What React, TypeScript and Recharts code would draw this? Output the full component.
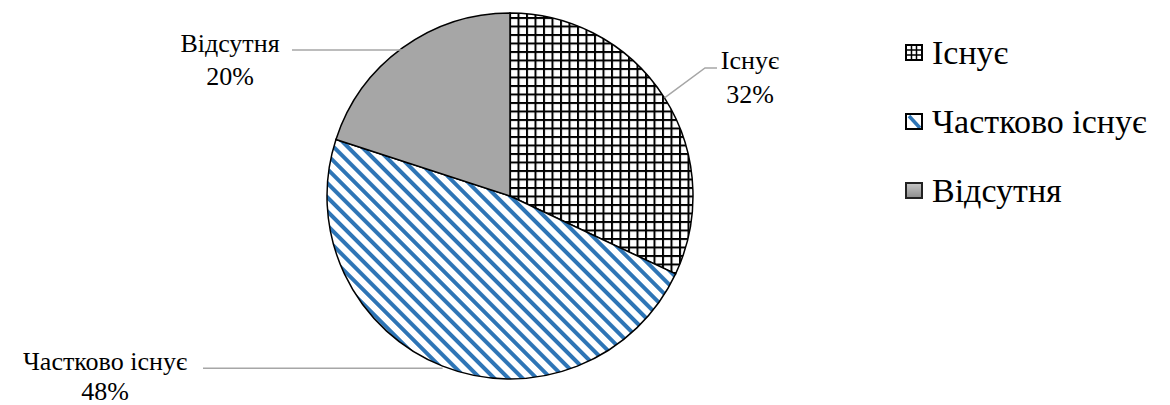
import React from 'react';
import { PieChart, Pie, Cell, Legend } from 'recharts';

const categories = ['Існує', 'Частково існує', 'Відсутня'];
const shares = [32, 48, 20];

const data = categories.map((name, i) => ({ name, value: shares[i] }));

const FONT = "'Times New Roman', Tinos, 'Liberation Serif', 'Noto Serif', 'DejaVu Serif', Georgia, serif";
const BLUE = '#2e75b6';
const GREY = '#a6a6a6';
const FILLS = ['url(#gridFill)', 'url(#stripeFill)', GREY];

// callout layout relative to the pie centre: leader bend/end and text centre + baselines
const CALLOUTS = [
  { bend: [195, -128], endX: 207, textX: 240, base: [-127, -93] },
  { bend: null, endX: -307, textX: -405, base: [174, 204] },
  { bend: null, endX: -218, textX: -280, base: [-144, -111] },
];

const RAD = Math.PI / 180;

function renderLabel(props: any) {
  const { cx, cy, midAngle, outerRadius, percent, index, name } = props;
  const c = CALLOUTS[index];
  const sx = cx + outerRadius * Math.cos(-midAngle * RAD);
  const sy = cy + outerRadius * Math.sin(-midAngle * RAD);
  let pts: string;
  if (c.bend) {
    pts = `${sx},${sy} ${cx + c.bend[0]},${cy + c.bend[1]} ${cx + c.endX},${cy + c.bend[1]}`;
  } else {
    pts = `${sx},${sy + 2} ${cx + c.endX},${sy + 2}`;
  }
  return (
    <g key={`lbl-${index}`}>
      <polyline points={pts} fill="none" stroke={GREY} strokeWidth={1.5} />
      <text x={cx + c.textX} y={cy + c.base[0]} textAnchor="middle" fontFamily={FONT} fontSize={26} fill="#000">
        {name}
      </text>
      <text x={cx + c.textX} y={cy + c.base[1]} textAnchor="middle" fontFamily={FONT} fontSize={26} fill="#000">
        {Math.round(percent * 100)}%
      </text>
    </g>
  );
}

function Marker({ index }: { index: number }) {
  if (index === 0) {
    return (
      <svg width={18} height={17}>
        <rect x={1} y={1} width={16} height={15} fill="#fff" stroke="#000" strokeWidth={2} />
        <line x1={6.5} y1={1} x2={6.5} y2={16} stroke="#000" strokeWidth={1.5} />
        <line x1={11.5} y1={1} x2={11.5} y2={16} stroke="#000" strokeWidth={1.5} />
        <line x1={1} y1={6} x2={17} y2={6} stroke="#000" strokeWidth={1.5} />
        <line x1={1} y1={11} x2={17} y2={11} stroke="#000" strokeWidth={1.5} />
      </svg>
    );
  }
  if (index === 1) {
    return (
      <svg width={18} height={17}>
        <rect x={1} y={1} width={16} height={15} fill="#fff" />
        <line x1={4} y1={3} x2={15} y2={15} stroke={BLUE} strokeWidth={3.5} />
        <rect x={1} y={1} width={16} height={15} fill="none" stroke="#000" strokeWidth={2} />
      </svg>
    );
  }
  return (
    <svg width={18} height={17}>
      <defs>
        <linearGradient id="legGrey" x1="0" y1="0" x2="0" y2="1">
          <stop offset="0%" stopColor="#c8c8c8" />
          <stop offset="100%" stopColor="#8c8c8c" />
        </linearGradient>
      </defs>
      <rect x={1} y={1} width={16} height={15} fill="url(#legGrey)" stroke="#222" strokeWidth={2} />
    </svg>
  );
}

function LegendBox() {
  return (
    <div style={{ fontFamily: FONT, fontSize: 34, color: '#000' }}>
      {categories.map((name, i) => (
        <div key={name} style={{ height: 69, display: 'flex', alignItems: 'center' }}>
          <Marker index={i} />
          <span style={{ marginLeft: 9, whiteSpace: 'nowrap' }}>{name}</span>
        </div>
      ))}
    </div>
  );
}

export default function App() {
  return (
    <div style={{ width: 1170, height: 405, background: '#fff', position: 'relative' }}>
      <style>{`body{margin:0;background:#fff}`}</style>
      <PieChart width={1170} height={405} margin={{ top: 0, right: 0, bottom: 0, left: 0 }}>
        <defs>
          <pattern id="gridFill" patternUnits="userSpaceOnUse" x={509} y={0} width={8.5} height={8.5}>
            <rect width={8.5} height={8.5} fill="#fff" />
            <rect x={0} y={0} width={2} height={8.5} fill="#000" />
            <rect x={0} y={0} width={8.5} height={2} fill="#000" />
          </pattern>
          <pattern
            id="stripeFill"
            patternUnits="userSpaceOnUse"
            width={10}
            height={10}
            patternTransform="rotate(-45)"
          >
            <rect width={10} height={10} fill="#fff" />
            <rect x={0} y={0} width={4} height={10} fill={BLUE} />
          </pattern>
        </defs>
        <Pie
          data={data}
          dataKey="value"
          nameKey="name"
          cx={510}
          cy={196}
          outerRadius={183}
          startAngle={90}
          endAngle={-270}
          stroke="#000"
          strokeWidth={1.5}
          label={renderLabel}
          labelLine={false}
          isAnimationActive={false}
        >
          {data.map((d, i) => (
            <Cell key={d.name} fill={FILLS[i]} />
          ))}
        </Pie>
        <Legend
          layout="vertical"
          align="right"
          verticalAlign="top"
          wrapperStyle={{ position: 'absolute', left: 905, top: 18, width: 265 }}
          content={() => <LegendBox />}
        />
      </PieChart>
    </div>
  );
}
